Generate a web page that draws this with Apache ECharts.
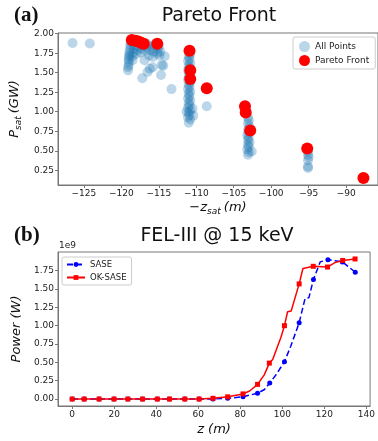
<!DOCTYPE html>
<html>
<head>
<meta charset="utf-8">
<script src="https://cdn.jsdelivr.net/npm/echarts@6/dist/echarts.min.js"></script>
<style>
  html, body {margin: 0; padding: 0; background: #fff;}
  #chart {width: 378px; height: 441px;}
</style>
</head>
<body>
<div id="chart"></div>
<script>
// panel (a): Pareto front, [-z_sat (m), P_sat (GW)]
const allPoints = [
  [-126.5, 1.88], [-124.2, 1.875],
  [-119.1, 1.53], [-119.1, 1.57], [-119.0, 1.60], [-119.0, 1.64], [-119.0, 1.67], [-119.0, 1.70],
  [-118.9, 1.72], [-118.9, 1.75], [-118.9, 1.78], [-118.8, 1.82], [-118.8, 1.86], [-118.7, 1.89],
  [-118.5, 1.66], [-118.5, 1.71], [-118.4, 1.76], [-118.3, 1.81], [-118.3, 1.85],
  [-118.0, 1.74], [-117.9, 1.79], [-117.8, 1.84], [-117.7, 1.88],
  [-117.4, 1.76], [-117.3, 1.81], [-117.2, 1.85],
  [-116.9, 1.66], [-116.8, 1.78], [-116.7, 1.83], [-116.6, 1.87],
  [-116.3, 1.72], [-116.2, 1.79], [-116.1, 1.84],
  [-115.8, 1.70], [-115.7, 1.77], [-115.6, 1.82], [-115.5, 1.86],
  [-115.2, 1.75], [-115.1, 1.80], [-115.0, 1.84],
  [-114.9, 1.72], [-114.8, 1.77], [-114.6, 1.60], [-114.2, 1.71],
  [-117.2, 1.43], [-116.5, 1.51], [-116.2, 1.55], [-115.8, 1.57], [-114.7, 1.47], [-114.4, 1.59],
  [-113.3, 1.29],
  [-111.0, 0.86], [-110.8, 0.90], [-111.1, 0.93], [-110.9, 0.96], [-111.0, 0.99], [-110.8, 1.02],
  [-111.1, 1.05], [-110.9, 1.08], [-111.0, 1.11], [-110.8, 1.14], [-111.1, 1.17], [-110.9, 1.20],
  [-111.0, 1.23], [-110.8, 1.26], [-111.1, 1.29], [-110.9, 1.32], [-111.0, 1.35], [-110.8, 1.38],
  [-111.1, 1.41], [-110.9, 1.44], [-111.0, 1.47], [-110.8, 1.50], [-111.1, 1.53], [-110.9, 1.56],
  [-111.0, 1.59], [-110.8, 1.62], [-111.1, 1.65], [-110.9, 1.68], [-111.0, 1.71], [-110.8, 1.74],
  [-110.4, 0.95], [-110.5, 1.04], [-111.3, 1.00],
  [-108.6, 1.07],
  [-103.1, 0.45], [-103.0, 0.48], [-102.6, 0.49], [-103.2, 0.52], [-103.0, 0.55], [-103.1, 0.58],
  [-102.9, 0.61], [-103.1, 0.64], [-103.0, 0.67], [-103.2, 0.70], [-103.0, 0.73], [-103.1, 0.77],
  [-102.9, 0.81], [-103.1, 0.85], [-103.0, 0.89], [-103.1, 0.93],
  [-95.1, 0.28], [-95.1, 0.30], [-95.1, 0.38], [-95.0, 0.42], [-95.1, 0.45], [-95.1, 0.49]
];
const paretoPoints = [
  [-118.6, 1.92], [-118.1, 1.91], [-117.7, 1.90], [-117.3, 1.88], [-117.0, 1.87], [-115.2, 1.87],
  [-110.9, 1.78], [-110.8, 1.53], [-110.8, 1.42], [-108.6, 1.30],
  [-103.5, 1.07], [-103.4, 0.99], [-102.8, 0.76], [-95.2, 0.53], [-87.7, 0.15]
];
const aTicksX = [-125, -120, -115, -110, -105, -100, -95, -90];
const aTicksY = [0.25, 0.5, 0.75, 1.0, 1.25, 1.5, 1.75, 2.0];

// panel (b): power along undulator, z (m) and power (1e9 W); mark = 1 where a marker is drawn
const saseZ = [0, 5.7, 12.8, 19.9, 26.5, 33.5, 40.5, 46.3, 53.6, 60.4, 67.0, 74.0, 81.3, 88.2,
  91.5, 94.0, 97.0, 101.0, 104.0, 108.0, 110.8, 112.6, 114.8, 118.0, 121.7, 128.6, 134.7];
const saseP = [0, 0, 0, 0, 0, 0, 0, 0, 0, 0, 0.00, 0.01, 0.03, 0.08,
  0.13, 0.22, 0.33, 0.51, 0.72, 1.04, 1.37, 1.38, 1.63, 1.87, 1.90, 1.87, 1.73];
const saseMark = [1, 1, 1, 1, 1, 1, 1, 1, 1, 1, 1, 1, 1, 1,
  0, 1, 0, 1, 0, 1, 0, 0, 1, 0, 1, 1, 1];
const okZ = [0, 5.7, 12.8, 19.9, 26.5, 33.5, 40.5, 46.3, 53.6, 60.4, 67.0, 74.0, 81.3, 84.4,
  88.2, 91.4, 93.8, 95.4, 99.3, 101.0, 102.5, 104.2, 108.0, 109.8, 114.7, 121.5, 125.0, 128.7, 134.6];
const okP = [0, 0, 0, 0, 0, 0, 0, 0, 0, 0, 0.01, 0.03, 0.07, 0.11,
  0.20, 0.33, 0.49, 0.54, 0.84, 1.00, 1.19, 1.20, 1.57, 1.78, 1.81, 1.80, 1.86, 1.89, 1.91];
const okMark = [1, 1, 1, 1, 1, 1, 1, 1, 1, 1, 1, 1, 1, 0,
  1, 0, 1, 0, 0, 1, 0, 0, 1, 0, 1, 1, 0, 1, 1];
const bTicksX = [0, 20, 40, 60, 80, 100, 120, 140];
const bTicksY = [0, 0.25, 0.5, 0.75, 1.0, 1.25, 1.5, 1.75];

const font = 'DejaVu Sans';
const spine = '#777';
const minus = (v) => (v < 0 ? '\u2212' + Math.abs(v) : String(v));

const withMarks = (zs, ps, marks) => zs.map((z, i) => (
  marks[i] ? [z, ps[i]] : {value: [z, ps[i]], symbol: 'none'}
));

const axisBase = {
  type: 'value',
  axisLine: {show: true, onZero: false, lineStyle: {color: spine, width: 1}},
  splitLine: {show: false},
  nameTextStyle: {color: '#111', fontFamily: font},
};

const nameRich = {
  i: {fontSize: 13, fontStyle: 'italic', fontFamily: font, color: '#111'},
  s: {fontSize: 9, fontStyle: 'italic', fontFamily: font, color: '#111', padding: [7, 3, 0, 0]},
};

const chart = echarts.init(document.getElementById('chart'));
chart.setOption({
  animation: false,
  backgroundColor: '#fff',
  textStyle: {fontFamily: font},
  grid: [
    {left: 58, top: 33, right: -3, bottom: 256, show: true, borderColor: spine, borderWidth: 1},
    {left: 58, top: 252, right: 2, bottom: 35, show: true, borderColor: spine, borderWidth: 1},
  ],
  xAxis: [
    {
      ...axisBase, gridIndex: 0, min: -128.44, max: -85.76,
      axisTick: {show: true, length: 3, customValues: aTicksX, lineStyle: {color: spine}},
      axisLabel: {customValues: aTicksX, formatter: minus, fontSize: 9, color: '#222', margin: 4},
      name: '{i|\u2212z}{s|sat}{i|(m)}', nameLocation: 'middle', nameGap: 15,
      nameTextStyle: {rich: nameRich},
    },
    {
      ...axisBase, gridIndex: 1, min: -6.75, max: 141.75,
      axisTick: {show: true, length: 3, customValues: bTicksX, lineStyle: {color: spine}},
      axisLabel: {customValues: bTicksX, fontSize: 9, color: '#222', margin: 4},
      name: '{i|z (m)}', nameLocation: 'middle', nameGap: 17,
      nameTextStyle: {rich: nameRich},
    },
  ],
  yAxis: [
    {
      ...axisBase, gridIndex: 0, min: 0.0615, max: 2.0085,
      axisTick: {show: true, length: 3, customValues: aTicksY, lineStyle: {color: spine}},
      axisLabel: {customValues: aTicksY, formatter: (v) => v.toFixed(2), fontSize: 9, color: '#222', margin: 4},
      name: '{i|P}{s|sat}{i|(GW)}', nameLocation: 'middle', nameGap: 32, nameRotate: 90,
      nameTextStyle: {rich: nameRich},
    },
    {
      ...axisBase, gridIndex: 1, min: -0.095, max: 2.005,
      axisTick: {show: true, length: 3, customValues: bTicksY, lineStyle: {color: spine}},
      axisLabel: {customValues: bTicksY, formatter: (v) => v.toFixed(2), fontSize: 9, color: '#222', margin: 4},
      name: '{i|Power (W)}', nameLocation: 'middle', nameGap: 32, nameRotate: 90,
      nameTextStyle: {rich: nameRich},
    },
  ],
  legend: [
    {
      data: ['All Points', 'Pareto Front'], orient: 'vertical', left: 293, top: 37,
      padding: [4, 6, 3, 6], itemGap: 3, itemWidth: 11, itemHeight: 11,
      borderColor: '#ccc', borderWidth: 1, borderRadius: 2, backgroundColor: '#fff',
      textStyle: {fontSize: 9, color: '#222', fontFamily: font}, selectedMode: false,
    },
    {
      data: ['SASE', 'OK-SASE'], orient: 'vertical', left: 62, top: 257,
      padding: [3, 5, 3, 4], itemGap: 4, itemWidth: 18, itemHeight: 6,
      borderColor: '#ccc', borderWidth: 1, borderRadius: 2, backgroundColor: '#fff',
      textStyle: {fontSize: 8.5, color: '#222', fontFamily: font}, selectedMode: false,
    },
  ],
  graphic: [
    {type: 'text', x: 14, y: 5, style: {text: '(a)', font: 'bold 21px "Liberation Serif"', fill: '#111'}},
    {type: 'text', x: 219, y: 7, style: {text: 'Pareto Front', font: '19px "DejaVu Sans"', fill: '#111', align: 'center'}},
    {type: 'text', x: 14, y: 225, style: {text: '(b)', font: 'bold 21px "Liberation Serif"', fill: '#111'}},
    {type: 'text', x: 217, y: 227, style: {text: 'FEL-III @ 15 keV', font: '19px "DejaVu Sans"', fill: '#111', align: 'center'}},
    {type: 'text', x: 59, y: 241, style: {text: '1e9', font: '9px "DejaVu Sans"', fill: '#222'}},
  ],
  series: [
    {
      name: 'All Points', type: 'scatter', xAxisIndex: 0, yAxisIndex: 0,
      data: allPoints, symbolSize: 10, itemStyle: {color: 'rgba(31,119,180,0.3)', opacity: 1},
      emphasis: {disabled: true},
    },
    {
      name: 'Pareto Front', type: 'scatter', xAxisIndex: 0, yAxisIndex: 0,
      data: paretoPoints, symbolSize: 12, itemStyle: {color: '#ff0000', opacity: 1},
      emphasis: {disabled: true},
    },
    {
      name: 'SASE', type: 'line', xAxisIndex: 1, yAxisIndex: 1,
      data: withMarks(saseZ, saseP, saseMark),
      symbol: 'circle', symbolSize: 5, showAllSymbol: true,
      lineStyle: {color: '#0000ff', width: 1.5, type: [6, 3]},
      itemStyle: {color: '#0000ff'}, emphasis: {disabled: true},
    },
    {
      name: 'OK-SASE', type: 'line', xAxisIndex: 1, yAxisIndex: 1,
      data: withMarks(okZ, okP, okMark),
      symbol: 'rect', symbolSize: 5, showAllSymbol: true,
      lineStyle: {color: '#ff0000', width: 1.5},
      itemStyle: {color: '#ff0000'}, emphasis: {disabled: true},
    },
  ],
});
</script>
</body>
</html>
